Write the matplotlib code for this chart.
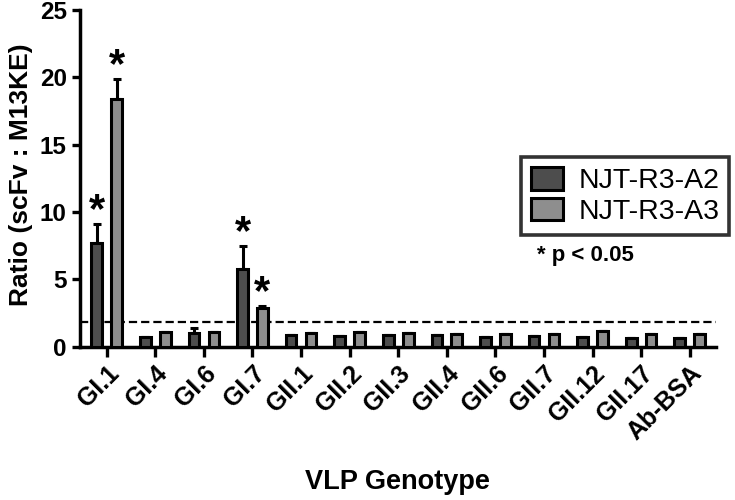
import matplotlib
matplotlib.use("Agg")
import matplotlib.pyplot as plt
import numpy as np

categories = ['GI.1', 'GI.4', 'GI.6', 'GI.7', 'GII.1', 'GII.2', 'GII.3', 'GII.4',
              'GII.6', 'GII.7', 'GII.12', 'GII.17', 'Ab-BSA']
a2_vals = [7.7, 0.72, 1.0, 5.8, 0.85, 0.8, 0.87, 0.87, 0.75, 0.8, 0.75, 0.68, 0.62]
a2_err = [1.4, 0.0, 0.38, 1.7, 0.0, 0.0, 0.0, 0.0, 0.0, 0.0, 0.0, 0.0, 0.0]
a3_vals = [18.4, 1.08, 1.08, 2.9, 1.0, 1.07, 1.0, 0.97, 0.97, 0.97, 1.2, 0.95, 0.97]
a3_err = [1.5, 0.0, 0.0, 0.1, 0.0, 0.0, 0.0, 0.0, 0.0, 0.0, 0.0, 0.0, 0.0]
series_names = ['NJT-R3-A2', 'NJT-R3-A3']
threshold = 1.8
sig_a2 = [0, 3]
sig_a3 = [0, 3]

plt.rcParams['font.family'] = ['Liberation Sans', 'DejaVu Sans']

fig = plt.figure(figsize=(7.35, 5.0), dpi=100)
ax = fig.add_axes([80/735, 1-346.7/500, (716-80)/735, (346.7-10)/500])

x = np.arange(len(categories))
off = 0.205
w = 0.22
c_dark = '#4d4d4d'
c_light = '#8e8e8e'
lw = 2.2

b1 = ax.bar(x - off, a2_vals, w, color=c_dark, edgecolor='black', linewidth=lw, zorder=3,
            label=series_names[0])
b2 = ax.bar(x + off, a3_vals, w, color=c_light, edgecolor='black', linewidth=lw, zorder=3,
            label=series_names[1])
for xs, v, e in ((x - off, a2_vals, a2_err), (x + off, a3_vals, a3_err)):
    ax.errorbar(xs, v, yerr=[np.zeros(len(v)), e], fmt='none', ecolor='black',
                elinewidth=2.2, capsize=3, capthick=2.2, zorder=2)

ax.axhline(threshold, color='black', linewidth=1.6, dashes=(3.7, 1.8), zorder=1)

for idx, vals, errs, sgn in ((sig_a2, a2_vals, a2_err, -1), (sig_a3, a3_vals, a3_err, 1)):
    for i in idx:
        ax.annotate('*', xy=(x[i] + sgn * off, vals[i] + errs[i]), xytext=(0, 1.5),
                    textcoords='offset points', ha='center', va='baseline',
                    fontsize=30, fontweight='bold')

ax.set_xlim(-0.55, 12.54)
ax.set_ylim(0, 25)
ax.set_yticks([0, 5, 10, 15, 20, 25])
ax.set_xticks(x)
ax.set_xticklabels(categories, rotation=45, ha='right', rotation_mode='anchor',
                   fontsize=18, fontweight='bold')
ax.tick_params(axis='y', labelsize=17.5, width=2.4, length=6, direction='out')
ax.tick_params(axis='x', width=2.4, length=7.5, direction='out', pad=3)
for lab in ax.get_yticklabels():
    lab.set_fontweight('bold')
for s in ['top', 'right']:
    ax.spines[s].set_visible(False)
for s in ['left', 'bottom']:
    ax.spines[s].set_linewidth(2.5)

fig.text(21/735, 1-175/500, 'Ratio (scFv : M13KE)', rotation=90, ha='center',
         va='center', fontsize=19, fontweight='bold')
fig.text(397/735, 1-482/500, 'VLP Genotype', ha='center', va='center',
         fontsize=19.5, fontweight='bold')

leg = fig.legend(handles=[b1, b2], loc='upper left', bbox_to_anchor=(521/735, 1-157/500),
                 fontsize=20.5, frameon=True, fancybox=False, edgecolor='black',
                 handlelength=1.12, handleheight=0.85, handletextpad=0.55,
                 labelspacing=0.12, borderpad=0.35, borderaxespad=0)
leg.get_frame().set_linewidth(2.6)

fig.text(537/735, 1-255/500, '* p < 0.05', ha='left', va='center', fontsize=16,
         fontweight='bold')

fig.savefig('out.png', dpi=100)
